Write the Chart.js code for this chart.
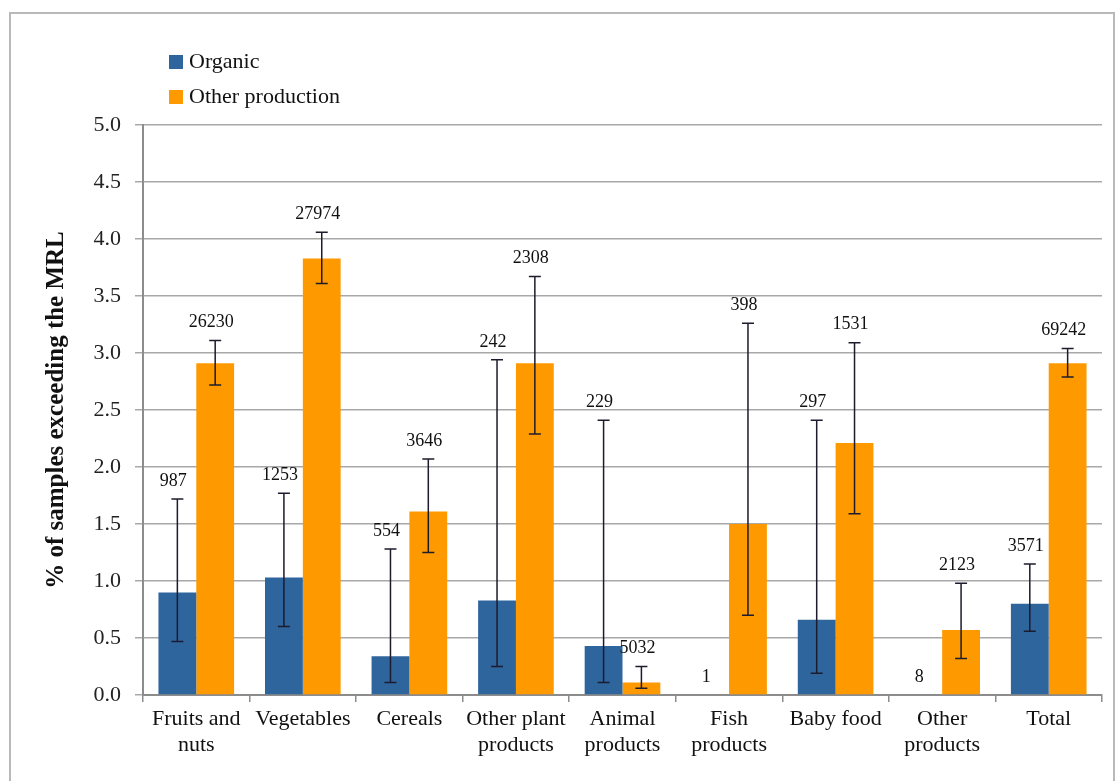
<!DOCTYPE html>
<html>
<head>
<meta charset="utf-8">
<title>Samples exceeding the MRL</title>
<script src="https://cdn.jsdelivr.net/npm/chart.js@4"></script>
<style>
  html, body { margin: 0; padding: 0; background: #fff; overflow: hidden; }
  #wrap { position: relative; width: 1120px; height: 781px; }
  #frame {
    position: absolute; left: 9px; top: 12px; width: 1106px; height: 800px;
    border: 2px solid #b9b9b9; box-sizing: border-box; pointer-events: none;
  }
  canvas { position: absolute; left: 0; top: 0; }
</style>
</head>
<body>
<div id="wrap">
  <div id="frame"></div>
  <canvas id="mrlChart" width="1120" height="781"></canvas>
</div>
<script>
// Data
const categories = [
  ['Fruits and', 'nuts'], 'Vegetables', 'Cereals', ['Other plant', 'products'],
  ['Animal', 'products'], ['Fish', 'products'], 'Baby food', ['Other', 'products'], 'Total'
];
const organicValues = [0.90, 1.03, 0.34, 0.83, 0.43, 0, 0.66, 0, 0.80];
const organicLow    = [0.47, 0.60, 0.11, 0.25, 0.11, null, 0.19, null, 0.56];
const organicHigh   = [1.72, 1.77, 1.28, 2.94, 2.41, null, 2.41, null, 1.15];
const organicCounts = ['987', '1253', '554', '242', '229', '1', '297', '8', '3571'];

const otherValues = [2.91, 3.83, 1.61, 2.91, 0.11, 1.50, 2.21, 0.57, 2.91];
const otherLow    = [2.72, 3.61, 1.25, 2.29, 0.06, 0.70, 1.59, 0.32, 2.79];
const otherHigh   = [3.11, 4.06, 2.07, 3.67, 0.25, 3.26, 3.09, 0.98, 3.04];
const otherCounts = ['26230', '27974', '3646', '2308', '5032', '398', '1531', '2123', '69242'];

const yTicks = { min: 0, max: 5, step: 0.5 };

const SERIF = '"Liberation Serif", "Times New Roman", serif';

// error bars and sample counts on top of each bar
const errorBarPlugin = {
  id: 'errorBars',
  afterDatasetsDraw(chart) {
    const ctx = chart.ctx;
    const y = chart.scales.y;
    chart.data.datasets.forEach(function(ds, di) {
      const meta = chart.getDatasetMeta(di);
      meta.data.forEach(function(bar, i) {
        const lo = ds.errLow[i], hi = ds.errHigh[i];
        let labelY;
        ctx.save();
        if (lo !== null && hi !== null) {
          const yLo = y.getPixelForValue(lo), yHi = y.getPixelForValue(hi);
          ctx.strokeStyle = '#1c1c2e';
          ctx.lineWidth = 1.5;
          ctx.beginPath();
          ctx.moveTo(bar.x, yLo); ctx.lineTo(bar.x, yHi);
          ctx.moveTo(bar.x - 6, yHi); ctx.lineTo(bar.x + 6, yHi);
          ctx.moveTo(bar.x - 6, yLo); ctx.lineTo(bar.x + 6, yLo);
          ctx.stroke();
          labelY = yHi - 18;
        } else {
          labelY = y.getPixelForValue(0) - 18;
        }
        ctx.fillStyle = '#111';
        ctx.font = '18px ' + SERIF;
        ctx.textAlign = 'center';
        ctx.textBaseline = 'middle';
        ctx.fillText(ds.counts[i], bar.x - 4, labelY);
        ctx.restore();
      });
    });
  }
};

// legend drawn as two stacked rows at top left
const stackedLegend = {
  id: 'stackedLegend',
  afterDraw(chart) {
    const ctx = chart.ctx;
    ctx.save();
    ctx.font = '22px ' + SERIF;
    ctx.textBaseline = 'middle';
    ctx.textAlign = 'left';
    chart.data.datasets.forEach(function(ds, i) {
      const cy = 62 + i * 35;
      ctx.fillStyle = ds.backgroundColor;
      ctx.fillRect(169, cy - 7, 14, 14);
      ctx.fillStyle = '#111';
      ctx.fillText(ds.label, 189, cy);
    });
    ctx.restore();
  }
};

new Chart(document.getElementById('mrlChart'), {
  type: 'bar',
  data: {
    labels: categories,
    datasets: [{
      label: 'Organic',
      data: organicValues,
      errLow: organicLow,
      errHigh: organicHigh,
      counts: organicCounts,
      backgroundColor: '#2f659d',
      categoryPercentage: 0.71,
      barPercentage: 1.0
    }, {
      label: 'Other production',
      data: otherValues,
      errLow: otherLow,
      errHigh: otherHigh,
      counts: otherCounts,
      backgroundColor: '#ff9900',
      categoryPercentage: 0.71,
      barPercentage: 1.0
    }]
  },
  options: {
    responsive: false,
    animation: false,
    layout: { padding: { top: 125, right: 18, left: 0, bottom: 0 } },
    plugins: {
      legend: { display: false },
      tooltip: { enabled: false }
    },
    scales: {
      x: {
        afterFit: function(scale) { scale.height = 86; },
        grid: { drawOnChartArea: false, drawTicks: true, tickLength: 7, color: '#8c8c8c', lineWidth: 1.5 },
        border: { display: true, color: '#8c8c8c', width: 2 },
        ticks: {
          color: '#111',
          padding: 4,
          maxRotation: 0,
          autoSkip: false,
          font: { family: SERIF, size: 22, lineHeight: 1.2 }
        }
      },
      y: {
        min: yTicks.min,
        max: yTicks.max,
        afterFit: function(scale) { scale.width = 143; },
        grid: { color: '#a8a8a8', lineWidth: 1.5, tickLength: 8 },
        border: { display: true, color: '#8c8c8c', width: 2 },
        ticks: {
          stepSize: yTicks.step,
          color: '#222',
          padding: 14,
          font: { family: SERIF, size: 22 },
          callback: function(v) { return v.toFixed(1); }
        },
        title: {
          display: true,
          text: '% of samples exceeding the MRL',
          color: '#111',
          padding: { top: 42, bottom: 0 },
          font: { family: SERIF, size: 25, weight: 'bold' }
        }
      }
    }
  },
  plugins: [errorBarPlugin, stackedLegend]
});
</script>
</body>
</html>
